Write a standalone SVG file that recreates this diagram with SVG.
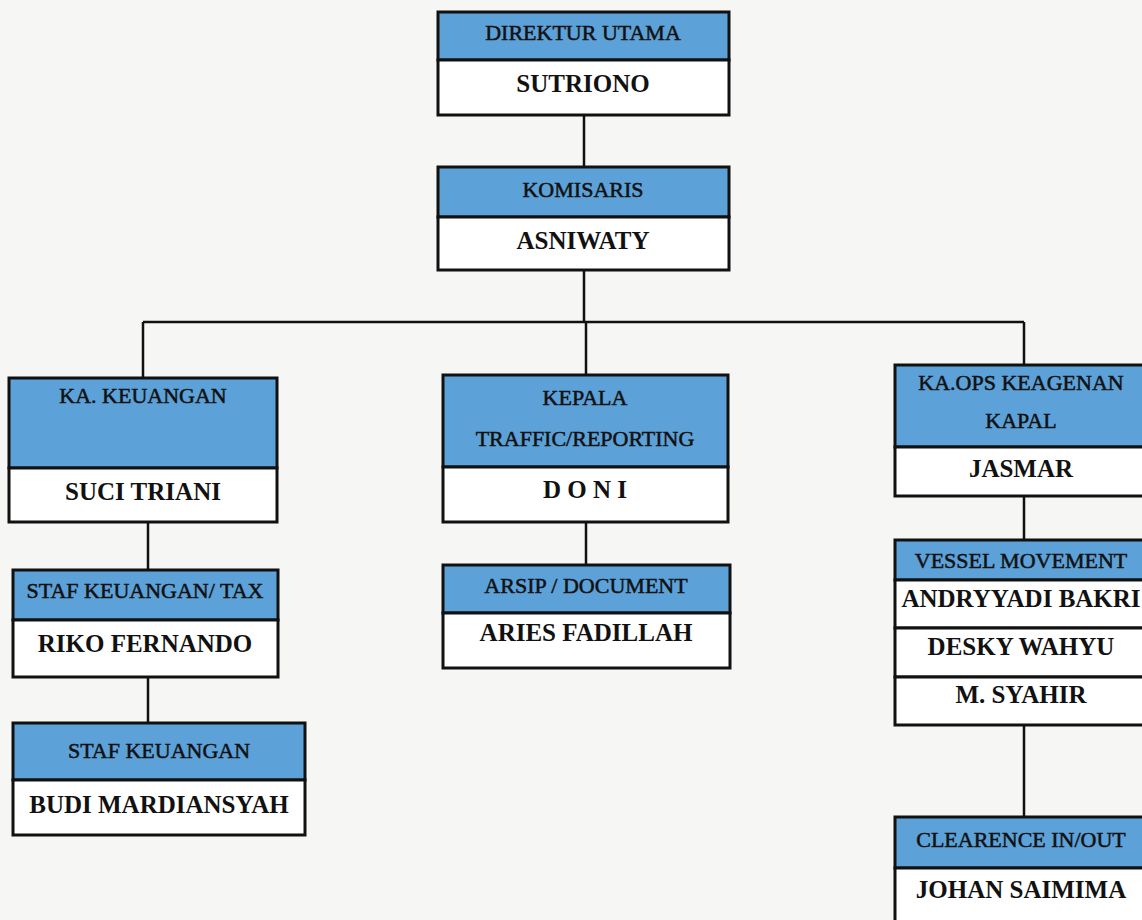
<svg xmlns="http://www.w3.org/2000/svg" width="1142" height="920" viewBox="0 0 1142 920">
<style>
.bg{fill:#f6f6f4}
.hd{fill:#5ca1d8;stroke:#111;stroke-width:3}
.bd{fill:#ffffff;stroke:#111;stroke-width:3}
.t{font-family:"Liberation Serif","DejaVu Serif",serif;font-size:22px;fill:#111;stroke:#111;stroke-width:0.5;text-anchor:middle}
.n{font-family:"Liberation Serif","DejaVu Serif",serif;font-size:25px;font-weight:bold;fill:#111;text-anchor:middle}
.c{fill:none;stroke:#111;stroke-width:2.5}
</style>
<rect class="bg" x="0" y="0" width="1142" height="920"/>
<g id="connectors">
<path class="c" d="M584 115V167"/>
<path class="c" d="M584 270V322"/>
<path class="c" d="M143 322H1024"/>
<path class="c" d="M143 322V378"/>
<path class="c" d="M586 322V375"/>
<path class="c" d="M1024 322V365"/>
<path class="c" d="M148 522V570"/>
<path class="c" d="M148 677V723"/>
<path class="c" d="M586 522V565"/>
<path class="c" d="M1024 496V540"/>
<path class="c" d="M1024 725V817"/>
</g>
<g id="direktur">
<rect class="hd" x="438" y="12" width="291" height="48"/>
<rect class="bd" x="438" y="60" width="291" height="55"/>
<text class="t" x="583" y="40">DIREKTUR UTAMA</text>
<text class="n" x="583" y="92">SUTRIONO</text>
</g>
<g id="komisaris">
<rect class="hd" x="438" y="167" width="291" height="50"/>
<rect class="bd" x="438" y="217" width="291" height="53"/>
<text class="t" x="583" y="197">KOMISARIS</text>
<text class="n" x="583" y="249">ASNIWATY</text>
</g>
<g id="ka-keuangan">
<rect class="hd" x="9" y="378" width="268" height="90"/>
<rect class="bd" x="9" y="468" width="268" height="54"/>
<text class="t" x="143" y="403">KA. KEUANGAN</text>
<text class="n" x="143" y="500">SUCI TRIANI</text>
</g>
<g id="staf-keuangan-tax">
<rect class="hd" x="13" y="570" width="265" height="50"/>
<rect class="bd" x="13" y="620" width="265" height="57"/>
<text class="t" x="145" y="598">STAF KEUANGAN/ TAX</text>
<text class="n" x="145" y="652">RIKO FERNANDO</text>
</g>
<g id="staf-keuangan">
<rect class="hd" x="13" y="723" width="292" height="57"/>
<rect class="bd" x="13" y="780" width="292" height="55"/>
<text class="t" x="159" y="758">STAF KEUANGAN</text>
<text class="n" x="159" y="813">BUDI MARDIANSYAH</text>
</g>
<g id="kepala-traffic">
<rect class="hd" x="443" y="375" width="285" height="92"/>
<rect class="bd" x="443" y="467" width="285" height="55"/>
<text class="t" x="585" y="405">KEPALA</text>
<text class="t" x="585" y="446">TRAFFIC/REPORTING</text>
<text class="n" x="585" y="498">D O N I</text>
</g>
<g id="arsip">
<rect class="hd" x="443" y="565" width="287" height="48"/>
<rect class="bd" x="443" y="613" width="287" height="55"/>
<text class="t" x="586" y="593">ARSIP / DOCUMENT</text>
<text class="n" x="586" y="641">ARIES FADILLAH</text>
</g>
<g id="ka-ops">
<rect class="hd" x="895" y="365" width="260" height="82"/>
<rect class="bd" x="895" y="447" width="260" height="49"/>
<text class="t" x="1021" y="390">KA.OPS KEAGENAN</text>
<text class="t" x="1021" y="428">KAPAL</text>
<text class="n" x="1021" y="477">JASMAR</text>
</g>
<g id="vessel-movement">
<rect class="hd" x="895" y="540" width="260" height="40"/>
<rect class="bd" x="895" y="580" width="260" height="48"/>
<rect class="bd" x="895" y="628" width="260" height="49"/>
<rect class="bd" x="895" y="677" width="260" height="48"/>
<text class="t" x="1021" y="568">VESSEL MOVEMENT</text>
<text class="n" x="1021" y="607">ANDRYYADI BAKRI</text>
<text class="n" x="1021" y="655">DESKY WAHYU</text>
<text class="n" x="1021" y="703">M. SYAHIR</text>
</g>
<g id="clearence">
<rect class="hd" x="895" y="817" width="260" height="51"/>
<rect class="bd" x="895" y="868" width="260" height="60"/>
<text class="t" x="1021" y="847">CLEARENCE IN/OUT</text>
<text class="n" x="1021" y="898">JOHAN SAIMIMA</text>
</g>
</svg>
